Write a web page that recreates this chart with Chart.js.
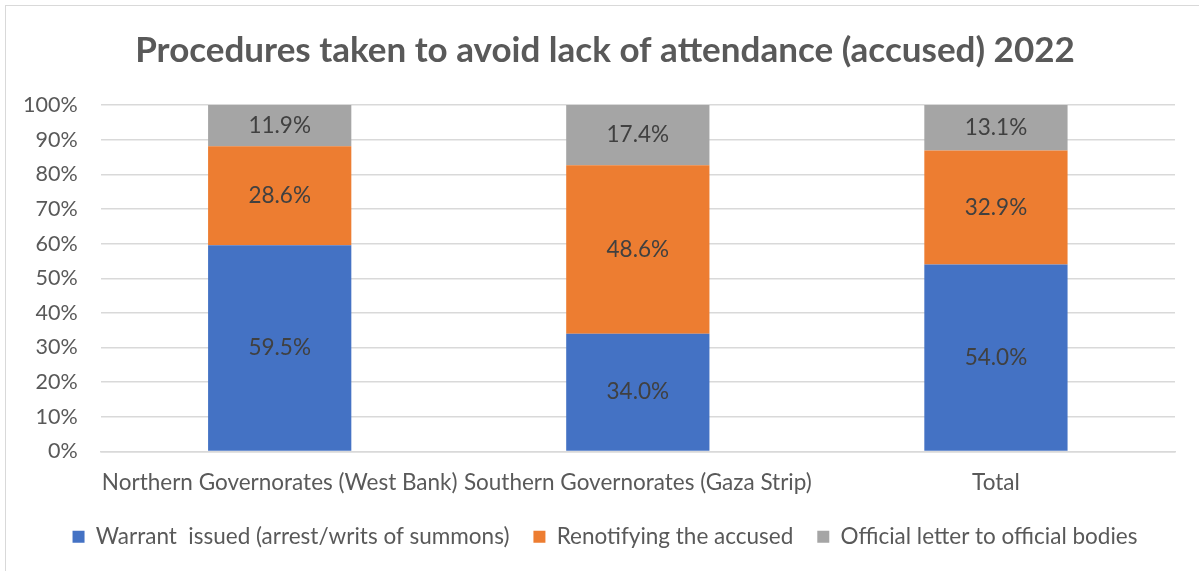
<!DOCTYPE html>
<html>
<head>
<meta charset="utf-8">
<script src="https://cdn.jsdelivr.net/npm/chart.js@4"></script>
<style>
  html, body { margin: 0; padding: 0; background: #ffffff; overflow: hidden; }
  #wrap { position: relative; width: 1199px; height: 571px; overflow: hidden; }
  #frame { position: absolute; left: 5px; top: 5px; width: 1300px; height: 700px; border: 1.5px solid #d9d9d9; box-sizing: border-box; }
  canvas { position: absolute; left: 0; top: 0; }
</style>
</head>
<body>
<div id="wrap">
  <div id="frame"></div>
  <canvas id="chart" width="1210" height="571"></canvas>
</div>
<script>
const categories = [
  "Northern Governorates (West Bank)",
  "Southern Governorates (Gaza Strip)",
  "Total"
];
const warrantIssued = [59.5, 34.0, 54.0];
const renotifying = [28.6, 48.6, 32.9];
const officialLetter = [11.9, 17.4, 13.1];
const yTicks = [0, 10, 20, 30, 40, 50, 60, 70, 80, 90, 100];

const FONT = "Lato, 'Open Sans', sans-serif";
const TEXT_SIZE = 22.5;

// Writes each segment's percentage in the middle of its bar piece
const segmentLabels = {
  id: 'segmentLabels',
  afterDatasetsDraw(chart) {
    const ctx = chart.ctx;
    ctx.save();
    ctx.font = TEXT_SIZE + "px " + FONT;
    ctx.fillStyle = '#404040';
    ctx.textAlign = 'center';
    ctx.textBaseline = 'middle';
    chart.data.datasets.forEach((ds, i) => {
      const meta = chart.getDatasetMeta(i);
      meta.data.forEach((bar, j) => {
        const y = (bar.y + bar.base) / 2;
        ctx.fillText(ds.data[j].toFixed(1) + '%', bar.x, y);
      });
    });
    ctx.restore();
  }
};

new Chart(document.getElementById('chart'), {
  type: 'bar',
  data: {
    labels: categories,
    datasets: [
      { label: 'Warrant  issued (arrest/writs of summons)', data: warrantIssued, backgroundColor: '#4472c4' },
      { label: 'Renotifying the accused', data: renotifying, backgroundColor: '#ed7d31' },
      { label: 'Official letter to official bodies', data: officialLetter, backgroundColor: '#a5a5a5' }
    ]
  },
  options: {
    responsive: false,
    animation: false,
    layout: { padding: { left: 0, right: 0, top: 30, bottom: 13 } },
    datasets: { bar: { categoryPercentage: 1.0, barPercentage: 0.4 } },
    scales: {
      x: {
        stacked: true,
        grid: { display: false, drawTicks: false },
        border: { color: '#d9d9d9', width: 1.5 },
        ticks: { color: '#595959', font: { family: FONT, size: TEXT_SIZE }, padding: 18, maxRotation: 0, autoSkip: false },
        afterFit(scale) { scale.height -= 13; }
      },
      y: {
        stacked: true,
        min: 0,
        max: 100,
        afterBuildTicks(axis) { axis.ticks = yTicks.map(v => ({ value: v })); },
        grid: { color: '#d9d9d9', lineWidth: 1.5, drawTicks: false },
        border: { display: false },
        ticks: { color: '#595959', font: { family: FONT, size: 21.5 }, padding: 23, callback: v => v + '%' }
      },
      // empty right-hand margin beside the plot
      gutter: {
        position: 'right',
        grid: { display: false, drawTicks: false },
        border: { display: false },
        ticks: { display: false },
        afterFit(scale) { scale.width = 35; }
      }
    },
    plugins: {
      title: {
        display: true,
        text: 'Procedures taken to avoid lack of attendance (accused) 2022',
        color: '#595959',
        font: { family: FONT, size: 35, weight: 'bold' },
        padding: { top: 0, bottom: 33 }
      },
      legend: {
        position: 'bottom',
        labels: { color: '#595959', font: { family: FONT, size: TEXT_SIZE }, boxWidth: 12, boxHeight: 12, padding: 24 }
      },
      tooltip: { enabled: false }
    }
  },
  plugins: [segmentLabels]
});
</script>
</body>
</html>
